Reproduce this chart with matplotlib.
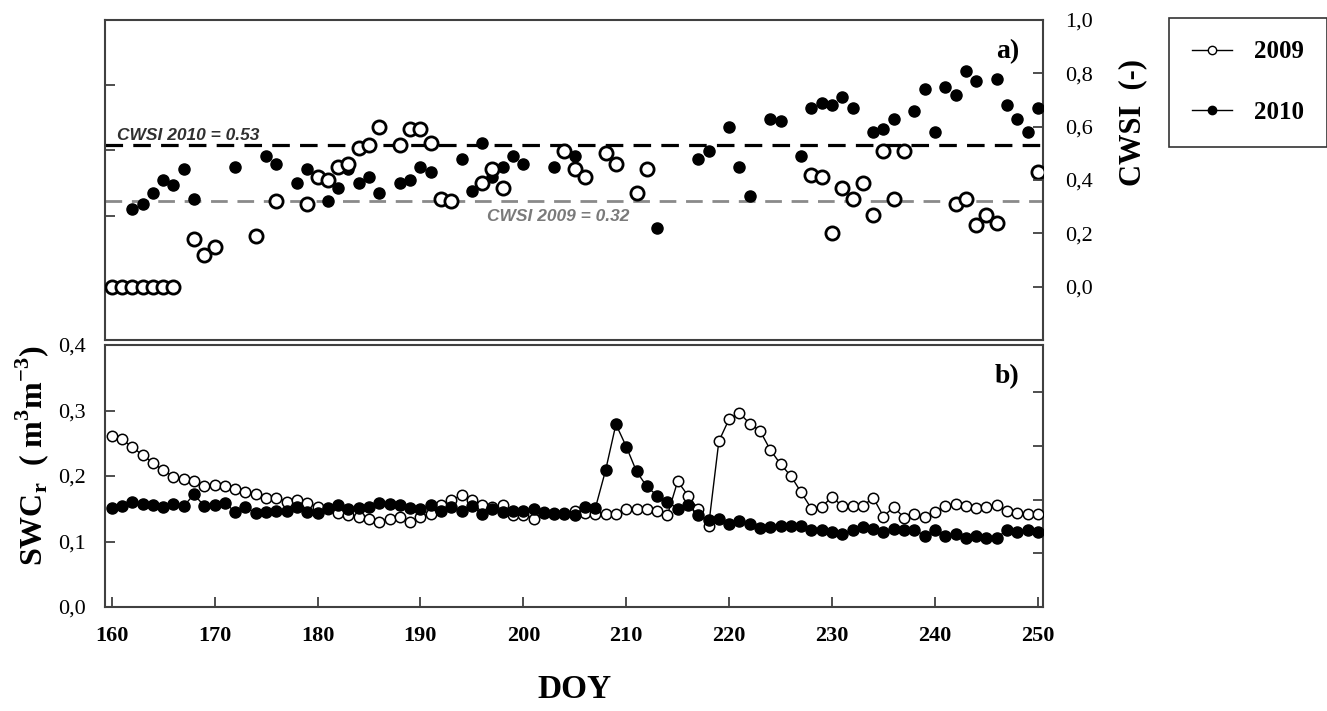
import matplotlib
matplotlib.use('Agg')
import matplotlib.pyplot as plt
import numpy as np
from matplotlib.lines import Line2D

plt.rcParams['font.family'] = ['Liberation Serif', 'DejaVu Serif']
plt.rcParams['mathtext.fontset'] = 'custom'
plt.rcParams['mathtext.rm'] = 'Liberation Serif:bold'
plt.rcParams['mathtext.bf'] = 'Liberation Serif:bold'

# CWSI (panel a)
doy_cwsi_2009 = [160, 161, 162, 163, 164, 165, 166, 168, 169, 170, 174, 176, 179, 180,
                 181, 182, 183, 184, 185, 186, 188, 189, 190, 191, 192, 193, 196, 197,
                 198, 204, 205, 206, 208, 209, 211, 212, 228, 229, 230, 231, 232, 233,
                 234, 235, 236, 237, 242, 243, 244, 245, 246, 250]
cwsi_2009 = [0.0, 0.0, 0.0, 0.0, 0.0, 0.0, 0.0, 0.18, 0.12, 0.15, 0.19, 0.32, 0.31, 0.41,
             0.40, 0.45, 0.46, 0.52, 0.53, 0.60, 0.53, 0.59, 0.59, 0.54, 0.33, 0.32, 0.39,
             0.44, 0.37, 0.51, 0.44, 0.41, 0.50, 0.46, 0.35, 0.44, 0.42, 0.41, 0.20, 0.37,
             0.33, 0.39, 0.27, 0.51, 0.33, 0.51, 0.31, 0.33, 0.23, 0.27, 0.24, 0.43]

doy_cwsi_2010 = [162, 163, 164, 165, 166, 167, 168, 172, 175, 176, 178, 179, 181, 182,
                 183, 184, 185, 186, 188, 189, 190, 191, 194, 195, 196, 197, 198, 199,
                 200, 203, 205, 213, 217, 218, 220, 221, 222, 224, 225, 227, 228, 229,
                 230, 231, 232, 234, 235, 236, 238, 239, 240, 241, 242, 243, 244, 246,
                 247, 248, 249, 250]
cwsi_2010 = [0.29, 0.31, 0.35, 0.40, 0.38, 0.44, 0.33, 0.45, 0.49, 0.46, 0.39, 0.44, 0.32,
             0.37, 0.44, 0.39, 0.41, 0.35, 0.39, 0.40, 0.45, 0.43, 0.48, 0.36, 0.54, 0.41,
             0.45, 0.49, 0.46, 0.45, 0.49, 0.22, 0.48, 0.51, 0.60, 0.45, 0.34, 0.63, 0.62,
             0.49, 0.67, 0.69, 0.68, 0.71, 0.67, 0.58, 0.59, 0.63, 0.66, 0.74, 0.58, 0.75,
             0.72, 0.81, 0.77, 0.78, 0.68, 0.63, 0.58, 0.67]

cwsi_mean_2009 = 0.32
cwsi_mean_2010 = 0.53

# relative soil water content (panel b), DOY 160-250
doy = np.arange(160, 251)
swc_2009 = [0.261, 0.256, 0.244, 0.232, 0.220, 0.209, 0.199, 0.195, 0.192, 0.184,
            0.186, 0.184, 0.180, 0.175, 0.172, 0.167, 0.167, 0.161, 0.164, 0.159,
            0.153, 0.149, 0.144, 0.141, 0.138, 0.135, 0.130, 0.135, 0.137, 0.130,
            0.138, 0.142, 0.155, 0.163, 0.171, 0.163, 0.155, 0.152, 0.155, 0.141,
            0.141, 0.135, 0.145, 0.143, 0.143, 0.147, 0.144, 0.142, 0.142, 0.142,
            0.150, 0.150, 0.150, 0.147, 0.140, 0.192, 0.170, 0.149, 0.123, 0.253,
            0.287, 0.296, 0.280, 0.269, 0.240, 0.218, 0.200, 0.175, 0.150, 0.153,
            0.168, 0.154, 0.154, 0.154, 0.167, 0.138, 0.153, 0.136, 0.142, 0.138,
            0.145, 0.154, 0.157, 0.154, 0.151, 0.153, 0.155, 0.146, 0.144, 0.142,
            0.142]
swc_2010 = [0.151, 0.154, 0.161, 0.158, 0.155, 0.153, 0.158, 0.154, 0.172, 0.154,
            0.156, 0.159, 0.145, 0.152, 0.144, 0.145, 0.146, 0.146, 0.153, 0.145,
            0.144, 0.151, 0.156, 0.150, 0.151, 0.153, 0.159, 0.158, 0.156, 0.151,
            0.150, 0.155, 0.147, 0.153, 0.146, 0.154, 0.142, 0.150, 0.145, 0.147,
            0.147, 0.150, 0.144, 0.142, 0.142, 0.141, 0.153, 0.151, 0.209, 0.279,
            0.245, 0.207, 0.184, 0.170, 0.161, 0.150, 0.155, 0.141, 0.133, 0.134,
            0.126, 0.131, 0.126, 0.120, 0.122, 0.124, 0.124, 0.124, 0.117, 0.117,
            0.115, 0.112, 0.117, 0.122, 0.119, 0.114, 0.119, 0.118, 0.118, 0.109,
            0.118, 0.109, 0.111, 0.105, 0.109, 0.105, 0.106, 0.117, 0.114, 0.117,
            0.115]

x_ticks = list(range(160, 251, 10))
cwsi_ticks = [0.0, 0.2, 0.4, 0.6, 0.8, 1.0]
swc_ticks = [0.0, 0.1, 0.2, 0.3, 0.4]


def comma(v):
    return f'{v:.1f}'.replace('.', ',')


spine_col = '#404040'
xlim = (159.35, 250.5)

fig = plt.figure(figsize=(13.27, 7.11), dpi=100)
ax1 = fig.add_axes([105 / 1327, 1 - 340 / 711, 938 / 1327, 320 / 711])
ax2 = fig.add_axes([105 / 1327, 1 - 607 / 711, 938 / 1327, 262 / 711])

for ax in (ax1, ax2):
    for s in ax.spines.values():
        s.set_color(spine_col)
        s.set_linewidth(1.5)
    ax.set_xlim(*xlim)

# ---- panel a ----
ax1.set_ylim(-0.2, 1.0)
ax1.set_xticks([])
ax1.set_yticks([0.264, 0.514, 0.757])
ax1.set_yticklabels([])
ax1.tick_params(axis='y', direction='in', length=7, width=1.3, color=spine_col)

ax1.axhline(cwsi_mean_2010, color='black', lw=2.3, dashes=(5.5, 3.2), zorder=1)
ax1.axhline(cwsi_mean_2009, color='#8a8a8a', lw=2.0, dashes=(6, 3.5), zorder=1)
ax1.text(160.5, 0.566, 'CWSI 2010 = 0.53', fontsize=12.5, fontstyle='italic',
         fontweight='bold', family='Liberation Sans', color='#303030',
         ha='left', va='center')
ax1.text(196.5, 0.262, 'CWSI 2009 = 0.32', fontsize=12.5, fontstyle='italic',
         fontweight='bold', family='Liberation Sans', color='#7a7a7a',
         ha='left', va='center')

ax1.plot(doy_cwsi_2010, cwsi_2010, 'o', ms=8, color='black', zorder=3)
ax1.plot(doy_cwsi_2009, cwsi_2009, 'o', ms=9.5, mfc='white', mec='black',
         mew=2.0, zorder=4)
ax1.text(0.975, 0.9, 'a)', transform=ax1.transAxes, fontsize=20,
         fontweight='bold', ha='right', va='center')

ax1r = ax1.twinx()
ax1r.set_ylim(-0.2, 1.0)
ax1r.set_yticks(cwsi_ticks)
ax1r.set_yticklabels([comma(v) for v in cwsi_ticks], fontsize=16)
ax1r.tick_params(axis='y', direction='in', length=7, width=1.3, color=spine_col, pad=16)
for s in ax1r.spines.values():
    s.set_visible(False)

# ---- panel b ----
ax2.set_ylim(0, 0.4)
ax2.set_yticks(swc_ticks)
ax2.set_yticklabels([comma(v) for v in swc_ticks], fontsize=16)
ax2.set_xticks(x_ticks)
ax2.set_xticklabels([str(v) for v in x_ticks], fontsize=16, fontweight='bold')
ax2.tick_params(axis='both', direction='in', length=7, width=1.3, color=spine_col, pad=14)

ax2.plot(doy, swc_2009, '-o', color='black', lw=1.0, ms=7.5, mfc='white',
         mec='black', mew=1.1, zorder=3)
ax2.plot(doy, swc_2010, '-o', color='black', lw=1.0, ms=8, mfc='black',
         mec='black', zorder=4)
ax2.text(0.975, 0.88, 'b)', transform=ax2.transAxes, fontsize=20,
         fontweight='bold', ha='right', va='center')

ax2r = ax2.twinx()
ax2r.set_ylim(0, 0.4)
ax2r.set_yticks([0.082, 0.164, 0.246, 0.329])
ax2r.set_yticklabels([])
ax2r.tick_params(axis='y', direction='in', length=7, width=1.3, color=spine_col)
for s in ax2r.spines.values():
    s.set_visible(False)

# axis titles
fig.text(32 / 1327, 1 - 456 / 711, r'SWC$_\mathbf{r}$  ( m$^\mathbf{3}$m$^\mathbf{-3}$)',
         rotation=90, fontsize=23, fontweight='bold', ha='center', va='center')
fig.text(1133 / 1327, 1 - 122 / 711, 'CWSI  (-)', rotation=90, fontsize=22,
         fontweight='bold', ha='center', va='center')
fig.text(575 / 1327, 1 - 690 / 711, 'DOY', fontsize=24, fontweight='bold',
         ha='center', va='center')

# legend
handles = [Line2D([], [], color='black', lw=1.0, marker='o', ms=6, mfc='white', mec='black'),
           Line2D([], [], color='black', lw=1.0, marker='o', ms=6, mfc='black', mec='black')]
leg = fig.legend(handles, ['2009', '2010'], loc='upper left',
                 bbox_to_anchor=(1169 / 1327, 1 - 18 / 711), borderaxespad=0,
                 prop={'family': 'Liberation Serif', 'weight': 'bold', 'size': 18},
                 frameon=True, fancybox=False, edgecolor='black', handlelength=1.6,
                 handletextpad=0.9, labelspacing=1.5, borderpad=0.9)
leg.get_frame().set_linewidth(1.2)

fig.savefig('out.png', dpi=100, facecolor='white')
